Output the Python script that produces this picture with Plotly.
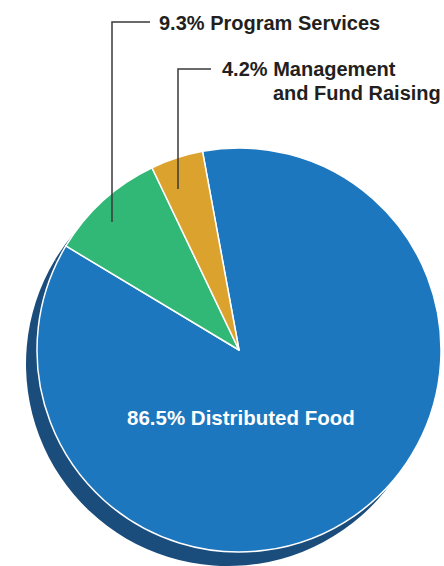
import plotly.graph_objects as go

W, H = 444, 566

categories = ["Distributed Food", "Program Services", "Management<br>and Fund Raising"]
shares = [86.5, 9.3, 4.2]
colors = ["#1D77BE", "#32B876", "#DCA22E"]
shadow_color = "#1B4D7C"

# geometry (pixels)
cx, cy, r = 239, 350, 202
sdx, sdy = -11, 14


def dom(cx_, cy_):
    return dict(x=[max(0, (cx_ - r) / W), min(1, (cx_ + r) / W)],
                y=[max(0, (H - cy_ - r) / H), min(1, (H - cy_ + r) / H)])


fig = go.Figure()
fig.add_trace(go.Pie(
    values=shares, labels=categories, sort=False, direction="clockwise",
    rotation=-10.4, textinfo="none", hoverinfo="skip", showlegend=False,
    marker=dict(colors=[shadow_color] * len(shares), line=dict(width=0)),
    domain=dom(cx + sdx, cy + sdy),
))
fig.add_trace(go.Pie(
    values=shares, labels=categories, sort=False, direction="clockwise",
    rotation=-10.4, textinfo="none", showlegend=False,
    marker=dict(colors=colors, line=dict(color="white", width=1.5)),
    domain=dom(cx, cy),
))

FAM = "Liberation Sans"
font = dict(family=FAM, size=20, color="#231F20", weight="bold")


def px(x):
    return x / W


def py(y):
    return 1 - y / H


annotations = [
    dict(x=px(241), y=py(417), text=f"{shares[0]}% {categories[0]}",
         font=dict(family=FAM, size=20.5, color="white", weight="bold"),
         xanchor="center", yanchor="middle"),
    dict(x=px(157), y=py(23), text=f"{shares[1]}% {categories[1]}",
         font=font, xanchor="left", yanchor="middle"),
    dict(x=px(220), y=py(69), text=f"{shares[2]}% Management",
         font=font, xanchor="left", yanchor="middle"),
    dict(x=px(271), y=py(93), text="and Fund Raising",
         font=font, xanchor="left", yanchor="middle"),
]
for a in annotations:
    a.update(xref="paper", yref="paper", showarrow=False)

line = dict(color="#3a3a3a", width=1.5)
shapes = [
    dict(type="path", path=f"M {px(150)} {py(22)} L {px(112)} {py(22)} L {px(112)} {py(222)}",
         xref="paper", yref="paper", line=line),
    dict(type="path", path=f"M {px(211)} {py(69)} L {px(178)} {py(69)} L {px(178)} {py(189)}",
         xref="paper", yref="paper", line=line),
]

fig.update_layout(
    width=W, height=H, margin=dict(l=0, r=0, t=0, b=0),
    paper_bgcolor="white", plot_bgcolor="white",
    annotations=annotations, shapes=shapes,
)
fig.write_html("out.html")
